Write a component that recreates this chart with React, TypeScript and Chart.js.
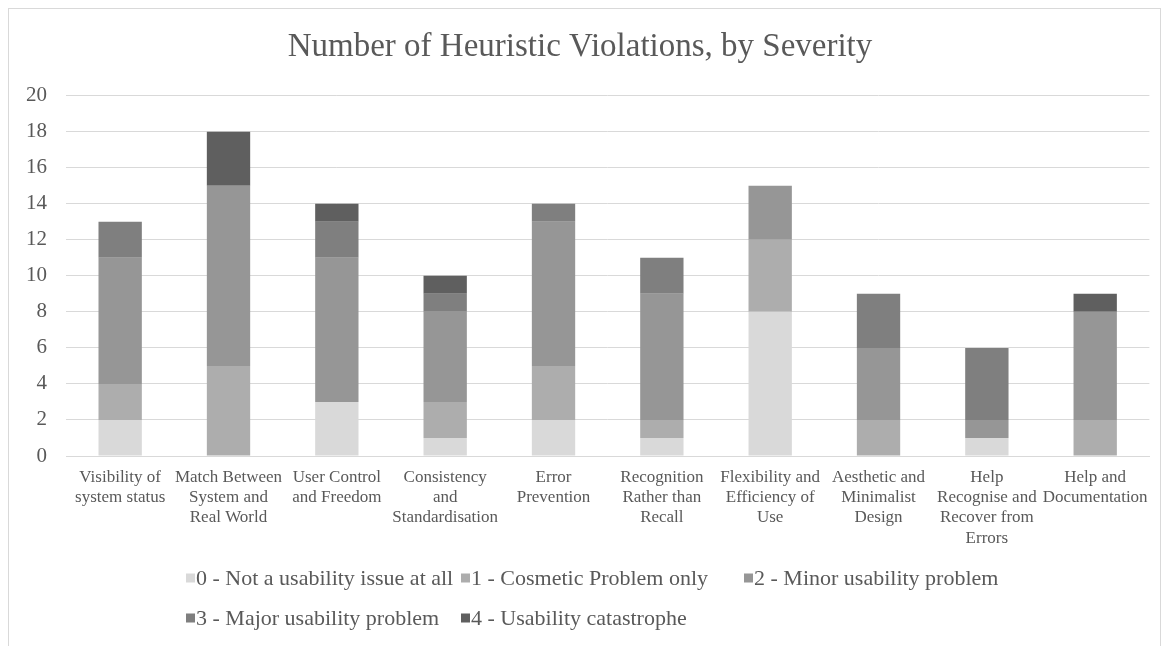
import React, { useEffect, useRef } from "react";
import { Chart, registerables } from "chart.js";

Chart.register(...registerables);

const categories: string[][] = [
  ["Visibility of", "system status"],
  ["Match Between", "System and", "Real World"],
  ["User Control", "and Freedom"],
  ["Consistency", "and", "Standardisation"],
  ["Error", "Prevention"],
  ["Recognition", "Rather than", "Recall"],
  ["Flexibility and", "Efficiency of", "Use"],
  ["Aesthetic and", "Minimalist", "Design"],
  ["Help", "Recognise and", "Recover from", "Errors"],
  ["Help and", "Documentation"],
];

const severityLabels = [
  "0 - Not a usability issue at all",
  "1 - Cosmetic Problem only",
  "2 - Minor usability problem",
  "3 - Major usability problem",
  "4 - Usability catastrophe",
];

const severityColors = ["#d9d9d9", "#adadad", "#969696", "#7f7f7f", "#5f5f5f"];

const sev0 = [2, 0, 3, 1, 2, 1, 8, 0, 1, 0];
const sev1 = [2, 5, 0, 2, 3, 1, 4, 2, 0, 2];
const sev2 = [7, 10, 8, 5, 8, 7, 3, 4, 1, 6];
const sev3 = [2, 0, 2, 1, 1, 2, 0, 3, 4, 0];
const sev4 = [0, 3, 1, 1, 0, 0, 0, 0, 0, 1];

const yMin = 0;
const yMax = 20;
const yStep = 2;

const titleText = "Number of Heuristic Violations, by Severity";

const FONT = "'Liberation Serif', 'Times New Roman', serif";
const TEXT = "#595959";
const GRID = "#d9d9d9";

// legend layout (canvas px)
const LEGEND_COLS = [177, 452, 735];
const LEGEND_ROWS = [569, 609];
const LEGEND_PER_ROW = 3;

const customLegend = {
  id: "customLegend",
  afterDraw(chart: any) {
    const ctx = chart.ctx;
    ctx.save();
    ctx.font = `22px ${FONT}`;
    ctx.textBaseline = "middle";
    ctx.textAlign = "left";
    chart.data.datasets.forEach((ds: any, i: number) => {
      const row = Math.floor(i / LEGEND_PER_ROW);
      const col = i % LEGEND_PER_ROW;
      const x = LEGEND_COLS[col];
      const y = LEGEND_ROWS[row];
      ctx.fillStyle = ds.backgroundColor;
      ctx.fillRect(x, y - 4.5, 9, 9);
      ctx.fillStyle = TEXT;
      ctx.fillText(ds.label, x + 10, y + 1);
    });
    ctx.restore();
  },
};

export default function App() {
  const canvasRef = useRef<HTMLCanvasElement | null>(null);

  useEffect(() => {
    if (!canvasRef.current) return;
    const series = [sev0, sev1, sev2, sev3, sev4];
    const chart = new Chart(canvasRef.current, {
      type: "bar",
      data: {
        labels: categories,
        datasets: series.map((d, i) => ({
          label: severityLabels[i],
          data: d,
          backgroundColor: severityColors[i],
          borderWidth: 0,
          barPercentage: 0.4,
          categoryPercentage: 1,
        })),
      },
      options: {
        responsive: false,
        animation: false,
        layout: { padding: { left: 0, right: 8, top: 0, bottom: 70 } },
        plugins: {
          legend: { display: false },
          tooltip: { enabled: false },
          title: {
            display: true,
            text: titleText,
            color: TEXT,
            font: { family: FONT, size: 33, weight: "normal" },
            padding: { top: 19, bottom: 28 },
          },
        },
        scales: {
          x: {
            stacked: true,
            grid: { display: false, drawTicks: false },
            border: { display: true, color: GRID },
            ticks: {
              color: TEXT,
              font: { family: FONT, size: 17, lineHeight: 1.2 },
              padding: 11,
              maxRotation: 0,
              autoSkip: false,
            },
            afterFit: (scale: any) => {
              scale.height = 120;
            },
          },
          y: {
            stacked: true,
            min: yMin,
            max: yMax,
            grid: { color: GRID, lineWidth: 1, drawTicks: false },
            border: { display: false },
            ticks: {
              stepSize: yStep,
              color: TEXT,
              font: { family: FONT, size: 21 },
              padding: 19,
            },
            afterFit: (scale: any) => {
              scale.width = 57;
            },
          },
        },
      },
      plugins: [customLegend],
    });
    return () => chart.destroy();
  }, []);

  return (
    <div
      style={{
        position: "fixed",
        left: 8,
        top: 8,
        width: 1153,
        height: 660,
        border: "1px solid #d9d9d9",
        boxSizing: "border-box",
        background: "#fff",
      }}
    >
      <canvas ref={canvasRef} width={1150} height={637} style={{ display: "block" }} />
    </div>
  );
}
